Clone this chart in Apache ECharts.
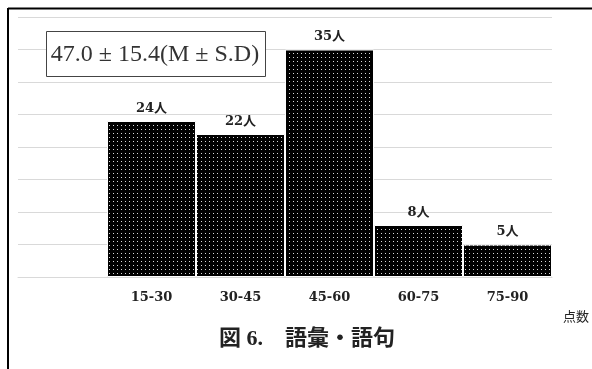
<!DOCTYPE html>
<html>
<head>
<meta charset="utf-8">
<script src="https://cdn.jsdelivr.net/npm/echarts@6/dist/echarts.min.js"></script>
<style>
  html, body { margin: 0; padding: 0; background: #fff; }
  #chart { width: 592px; height: 369px; }
</style>
</head>
<body>
<div id="chart"></div>
<script>
// Score bands (first slot left empty) and number of people in each band
const categories = ['', '15-30', '30-45', '45-60', '60-75', '75-90'];
const counts = ['-', 24, 22, 35, 8, 5];
const yMax = 40;
const yStep = 5;
const titleText = '図 6.　語彙・語句';
const statText = '47.0 ± 15.4(M ± S.D)';
const axisName = '点数';

// Black fill with a fine grid of light dots
function dotPattern() {
  const c = document.createElement('canvas');
  c.width = 4; c.height = 4;
  const g = c.getContext('2d');
  g.fillStyle = '#000';
  g.fillRect(0, 0, 4, 4);
  g.fillStyle = '#d8d8d8';
  g.fillRect(1, 1, 1, 1);
  return c;
}

const serif = '"DejaVu Serif", "Liberation Serif", "Noto Sans CJK JP", serif';

const chart = echarts.init(document.getElementById('chart'), null, { renderer: 'canvas' });
chart.setOption({
  animation: false,
  backgroundColor: '#fff',
  title: {
    text: titleText,
    left: 302,
    textAlign: 'center',
    top: 323,
    textStyle: { fontFamily: '"Liberation Serif", "Noto Sans CJK JP", serif', fontSize: 22, fontWeight: 'bold', color: '#222' }
  },
  grid: { left: 18, right: 40, top: 17, bottom: 92, containLabel: false },
  xAxis: {
    type: 'category',
    data: categories,
    axisLine: { show: true, lineStyle: { color: '#d9d9d9', width: 1 } },
    axisTick: { show: false },
    axisLabel: {
      margin: 14,
      fontFamily: serif,
      fontSize: 13,
      fontWeight: 'bold',
      color: '#222'
    }
  },
  yAxis: {
    type: 'value',
    min: 0,
    max: yMax,
    interval: yStep,
    axisLine: { show: false },
    axisTick: { show: false },
    axisLabel: { show: false },
    splitLine: { lineStyle: { color: '#d9d9d9', width: 1 } }
  },
  series: [{
    type: 'bar',
    data: counts,
    barCategoryGap: 0,
    itemStyle: {
      color: { image: dotPattern(), repeat: 'repeat' },
      borderColor: '#fff',
      borderWidth: 1
    },
    label: {
      show: true,
      position: 'top',
      distance: 6,
      formatter: p => p.value + '人',
      fontFamily: serif,
      fontSize: 13,
      fontWeight: 'bold',
      color: '#222'
    }
  }],
  graphic: [
    // frame lines on the top and left
    { type: 'line', shape: { x1: 8, y1: 8.5, x2: 592, y2: 8.5 }, style: { stroke: '#000', lineWidth: 2 } },
    { type: 'line', shape: { x1: 8, y1: 8, x2: 8, y2: 369 }, style: { stroke: '#000', lineWidth: 2 } },
    // statistics box
    { type: 'rect', shape: { x: 46.5, y: 31.5, width: 219, height: 45 }, style: { fill: '#fff', stroke: '#444', lineWidth: 1 }, z: 10 },
    { type: 'text', x: 155, y: 55, style: { text: statText, font: '24px "Liberation Serif", serif', fill: '#333', textAlign: 'center', textVerticalAlign: 'middle' }, z: 11 },
    // axis name at the far right
    { type: 'text', x: 563, y: 316, style: { text: axisName, font: '13px "Noto Sans CJK JP", sans-serif', fill: '#222', textVerticalAlign: 'middle' } }
  ]
});
</script>
</body>
</html>
